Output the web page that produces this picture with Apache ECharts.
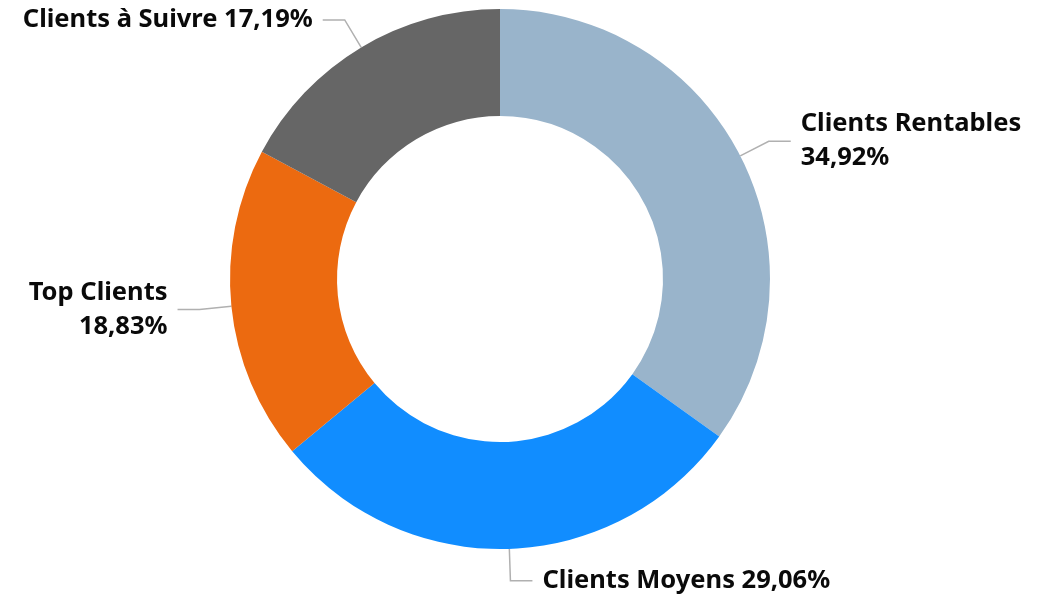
<!DOCTYPE html>
<html>
<head>
<meta charset="utf-8">
<script src="https://cdn.jsdelivr.net/npm/echarts@6/dist/echarts.min.js"></script>
<style>
html, body { margin: 0; padding: 0; background: #fff; }
#chart { width: 1040px; height: 600px; }
</style>
</head>
<body>
<div id="chart"></div>
<script>
// données du graphique
var categories = ['Clients Rentables', 'Clients Moyens', 'Top Clients', 'Clients à Suivre'];
var values = [34.92, 29.06, 18.83, 17.19];
var colors = ['#99b4cb', '#118dff', '#ec6a10', '#666666'];
var twoLines = [true, false, true, false];

function pct(v){
    return v.toFixed(2).replace('.', ',') + '%';
}

var chart = echarts.init(document.getElementById('chart'));
var data = [];
for(var i = 0; i < categories.length; i++){
    data.push({
        name: categories[i],
        value: values[i],
        itemStyle: { color: colors[i] },
        label: {
            formatter: categories[i] + (twoLines[i] ? '\n' : ' ') + pct(values[i]),
            align: (i == 0 || i == 1) ? 'left' : 'right'
        }
    });
}

var option = {
    animation: false,
    series: [
        {
            type: 'pie',
            radius: [163, 270],
            center: [500, 279],
            startAngle: 90,
            clockwise: true,
            avoidLabelOverlap: false,
            data: data,
            label: {
                show: true,
                position: 'outside',
                fontFamily: 'Noto Sans',
                fontWeight: 'bold',
                fontSize: 25.5,
                lineHeight: 34,
                padding: [14, 0, 0, 0],
                color: '#0a0a0a',
                distanceToLabelLine: 10
            },
            labelLine: {
                show: true,
                length: 32,
                length2: 22,
                smooth: false,
                lineStyle: { color: '#b0b0b0', width: 1.5 }
            }
        }
    ]
};
chart.setOption(option);
</script>
</body>
</html>
